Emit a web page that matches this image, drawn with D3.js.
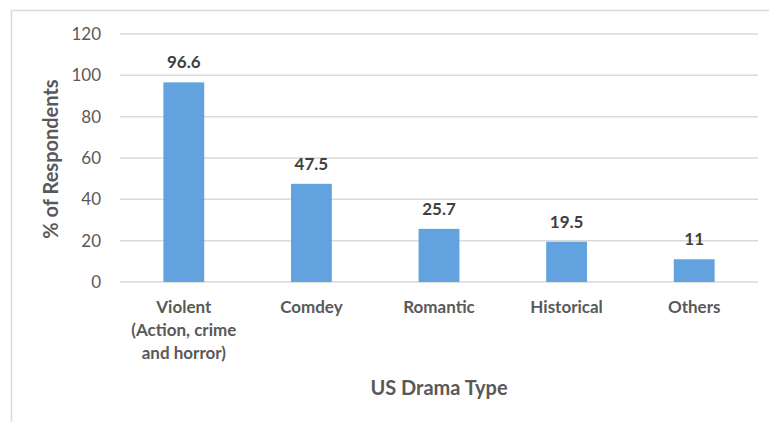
<!DOCTYPE html>
<html>
<head>
<meta charset="utf-8">
<script src="https://cdnjs.cloudflare.com/ajax/libs/d3/7.8.5/d3.min.js"></script>
<style>
  body { margin: 0; background: #fff; }
  text { font-family: Lato, "Open Sans", sans-serif; }
</style>
</head>
<body>
<div class="chart"></div>
<script>
const categories = [["Violent", "(Action, crime", "and horror)"], ["Comdey"], ["Romantic"], ["Historical"], ["Others"]];
const values = [96.6, 47.5, 25.7, 19.5, 11];
const yTicks = [0, 20, 40, 60, 80, 100, 120];

const W = 769, H = 422;
const margin = {top: 34, right: 11, bottom: 140, left: 120};
const width = W - margin.left - margin.right;
const height = H - margin.top - margin.bottom;

const svg = d3.select('.chart').append('svg')
    .attr("width", W)
    .attr("height", H);

// outer frame (cropped at right/bottom)
svg.append("rect")
    .attr("x", 11.5).attr("y", 10.5)
    .attr("width", W).attr("height", H)
    .attr("fill", "none")
    .attr("stroke", "#d9d9d9")
    .attr("stroke-width", 1.5);

const g = svg.append("g")
    .attr("transform", `translate(${margin.left},${margin.top})`);

const data = values.map((v, i) => ({label: categories[i], value: v, key: i}));

const xScale = d3.scaleBand()
    .domain(data.map(d => d.key))
    .range([0, width])
    .paddingInner(0.68)
    .paddingOuter(0.34);

const yScale = d3.scaleLinear()
    .domain([0, 120])
    .range([height, 0]);

// gridlines
g.selectAll(".grid")
    .data(yTicks)
    .enter().append("line")
    .attr("x1", 0).attr("x2", width)
    .attr("y1", d => yScale(d)).attr("y2", d => yScale(d))
    .attr("stroke", "#d9d9d9")
    .attr("stroke-width", 1.5);

// y axis labels
const yAxis = d3.axisLeft(yScale).tickValues(yTicks).tickSize(0).tickPadding(19);
g.append("g").attr("class", "y-axis").call(yAxis)
    .call(a => a.select(".domain").remove())
    .selectAll("text")
    .attr("font-size", "17px")
    .attr("fill", "#595959")
    .style("font-family", "Lato, sans-serif");

g.selectAll('rect.bar')
    .data(data)
    .enter()
    .append('rect')
    .attr('class', 'bar')
    .attr('x', d => xScale(d.key))
    .attr('y', d => yScale(d.value))
    .attr('width', xScale.bandwidth())
    .attr('height', d => height - yScale(d.value))
    .attr('fill', '#62a2df');

// value labels
g.selectAll('.val')
    .data(data)
    .enter().append('text')
    .attr('x', d => xScale(d.key) + xScale.bandwidth() / 2)
    .attr('y', d => yScale(d.value) - 14)
    .attr('text-anchor', 'middle')
    .attr('font-size', '17px')
    .attr('font-weight', 'bold')
    .attr('fill', '#404040')
    .text(d => d.value);

// category labels
const cat = g.selectAll('.cat')
    .data(data)
    .enter().append('text')
    .attr('text-anchor', 'middle')
    .attr('font-size', '17px')
    .attr('font-weight', 'bold')
    .attr('fill', '#595959')
    .attr('transform', d => `translate(${xScale(d.key) + xScale.bandwidth() / 2},${height + 31})`);
cat.selectAll('tspan')
    .data(d => d.label)
    .enter().append('tspan')
    .attr('x', 0)
    .attr('dy', (d, i) => i === 0 ? 0 : 23)
    .text(d => d);

// axis titles
g.append("text")
    .attr("x", width / 2)
    .attr("y", height + 113)
    .attr("text-anchor", "middle")
    .attr("font-size", "20px")
    .attr("font-weight", "bold")
    .attr("fill", "#595959")
    .text("US Drama Type");

g.append("text")
    .attr("transform", `translate(${58 - margin.left},${height / 2 + 1}) rotate(-90)`)
    .attr("text-anchor", "middle")
    .attr("font-size", "20px")
    .attr("font-weight", "bold")
    .attr("fill", "#595959")
    .text("% of Respondents");
</script>
</body>
</html>
